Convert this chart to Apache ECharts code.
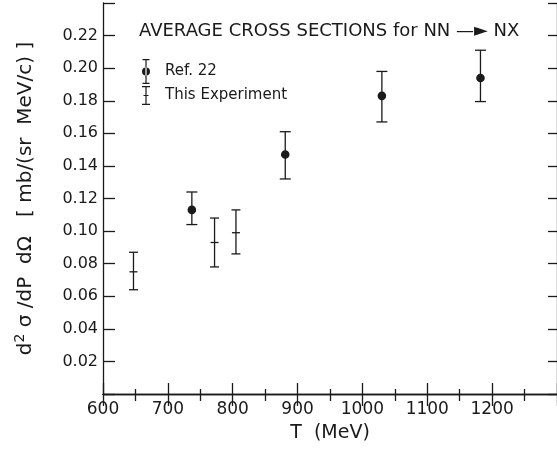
<!DOCTYPE html>
<html>
<head>
<meta charset="utf-8">
<script src="https://cdn.jsdelivr.net/npm/echarts@6/dist/echarts.min.js"></script>
<style>
  html, body { margin: 0; padding: 0; background: #fff; }
  #chart { width: 557px; height: 451px; }
</style>
</head>
<body>
<div id="chart"></div>
<script>
// This Experiment (crosses)
const thisT = [647, 772, 805];
const thisVal = [0.075, 0.093, 0.099];
const thisLo = [0.064, 0.078, 0.086];
const thisHi = [0.087, 0.108, 0.113];

// Ref. 22 (filled circles)
const refT = [737, 881, 1030, 1182];
const refVal = [0.113, 0.147, 0.183, 0.194];
const refLo = [0.104, 0.132, 0.167, 0.1795];
const refHi = [0.124, 0.161, 0.198, 0.211];

const ink = "#1a1a1a";
const font = "DejaVu Sans";

const rows = (t, v, lo, hi) => t.map((x, i) => [x, v[i], lo[i], hi[i]]);

// error bar with a marker in the middle
const errorBar = (kind) => (params, api) => {
  const x = api.value(0);
  const p = api.coord([x, api.value(1)]);
  const lo = api.coord([x, api.value(2)]);
  const hi = api.coord([x, api.value(3)]);
  const cap = kind === "dot" ? 5.5 : 4.5;
  const stroke = { stroke: ink, lineWidth: 1.3, fill: null };
  const children = [
    { type: "line", shape: { x1: p[0], y1: hi[1], x2: p[0], y2: lo[1] }, style: stroke },
    { type: "line", shape: { x1: p[0] - cap, y1: hi[1], x2: p[0] + cap, y2: hi[1] }, style: stroke },
    { type: "line", shape: { x1: p[0] - cap, y1: lo[1], x2: p[0] + cap, y2: lo[1] }, style: stroke },
  ];
  if (kind === "dot") {
    children.push({ type: "circle", shape: { cx: p[0], cy: p[1], r: 4.3 }, style: { fill: ink } });
  } else {
    children.push({ type: "line", shape: { x1: p[0] - 4, y1: p[1], x2: p[0] + 4, y2: p[1] }, style: stroke });
  }
  return { type: "group", children };
};

const refIcon = "path://M0.5 0h7v1.3h-7zM3.4 0h1.2v25h-1.2zM0.5 23.7h7v1.3h-7zM0 12.5a4 4 0 1 0 8 0a4 4 0 1 0 -8 0z";
const thisIcon = "path://M0 0h8v1.3h-8zM3.4 0h1.2v19h-1.2zM0 17.7h8v1.3h-8zM1.5 8.9h5v1.2h-5z";

const chart = echarts.init(document.getElementById("chart"));
chart.setOption({
  animation: false,
  backgroundColor: "#fff",
  title: {
    text: "AVERAGE CROSS SECTIONS for NN —► NX",
    left: 139,
    top: 22,
    padding: 0,
    textStyle: { fontFamily: font, fontSize: 18, fontWeight: "normal", color: ink },
  },
  legend: {
    orient: "vertical",
    left: 142,
    top: 59,
    itemWidth: 8,
    itemHeight: 25,
    itemGap: 2,
    padding: 0,
    data: [
      { name: "Ref. 22", icon: refIcon },
      { name: "This Experiment", icon: thisIcon },
    ],
    itemStyle: { color: ink },
    textStyle: { fontFamily: font, fontSize: 15, color: ink, padding: [0, 0, 0, 10] },
  },
  grid: { left: 103, right: -1, top: 3, bottom: 57 },
  xAxis: [
    {
      type: "value",
      min: 600,
      max: 1300,
      interval: 100,
      name: "T  (MeV)",
      nameLocation: "middle",
      nameGap: 30,
      nameTextStyle: { fontFamily: font, fontSize: 19, color: ink },
      axisLine: { lineStyle: { color: ink, width: 1.3 } },
      axisTick: { inside: true, length: 11, lineStyle: { color: ink, width: 1.3 } },
      minorTick: { show: true, splitNumber: 2, length: 5, lineStyle: { color: ink, width: 1.3 } },
      axisLabel: {
        fontFamily: font,
        fontSize: 17,
        color: ink,
        margin: 7,
        showMaxLabel: false,
        formatter: (v) => String(v),
      },
      splitLine: { show: false },
    },
    {
      type: "value",
      position: "top",
      min: 600,
      max: 1300,
      interval: 100,
      axisLine: { lineStyle: { color: ink, width: 1.3 } },
      axisTick: { inside: true, length: 12, lineStyle: { color: ink, width: 1.3 } },
      minorTick: { show: true, splitNumber: 2, length: 7, lineStyle: { color: ink, width: 1.3 } },
      axisLabel: { show: false },
      splitLine: { show: false },
    },
  ],
  yAxis: [
    {
      type: "value",
      min: 0,
      max: 0.24,
      interval: 0.02,
      name: "d{sup|2} σ /dP  dΩ   [ mb/(sr  MeV/c) ]",
      nameLocation: "middle",
      nameGap: 64,
      nameTextStyle: {
        fontFamily: font,
        fontSize: 20,
        color: ink,
        rich: { sup: { fontFamily: font, fontSize: 14, color: ink, padding: [0, 0, 12, 0] } },
      },
      axisLine: { lineStyle: { color: ink, width: 1.3 } },
      axisTick: { inside: true, length: 12, lineStyle: { color: ink, width: 1.3 } },
      axisLabel: {
        fontFamily: font,
        fontSize: 16,
        color: ink,
        margin: 5,
        formatter: (v) => (v < 0.01 || v > 0.23 ? "" : v.toFixed(2)),
      },
      splitLine: { show: false },
    },
    {
      type: "value",
      position: "right",
      min: 0,
      max: 0.24,
      interval: 0.02,
      axisLine: { lineStyle: { color: ink, width: 1.3 } },
      axisTick: { inside: true, length: 9, lineStyle: { color: ink, width: 1.3 } },
      axisLabel: { show: false },
      splitLine: { show: false },
    },
  ],
  series: [
    {
      name: "Ref. 22",
      type: "custom",
      renderItem: errorBar("dot"),
      encode: { x: 0, y: [1, 2, 3] },
      data: rows(refT, refVal, refLo, refHi),
      itemStyle: { color: ink },
    },
    {
      name: "This Experiment",
      type: "custom",
      renderItem: errorBar("cross"),
      encode: { x: 0, y: [1, 2, 3] },
      data: rows(thisT, thisVal, thisLo, thisHi),
      itemStyle: { color: ink },
    },
  ],
});
</script>
</body>
</html>
